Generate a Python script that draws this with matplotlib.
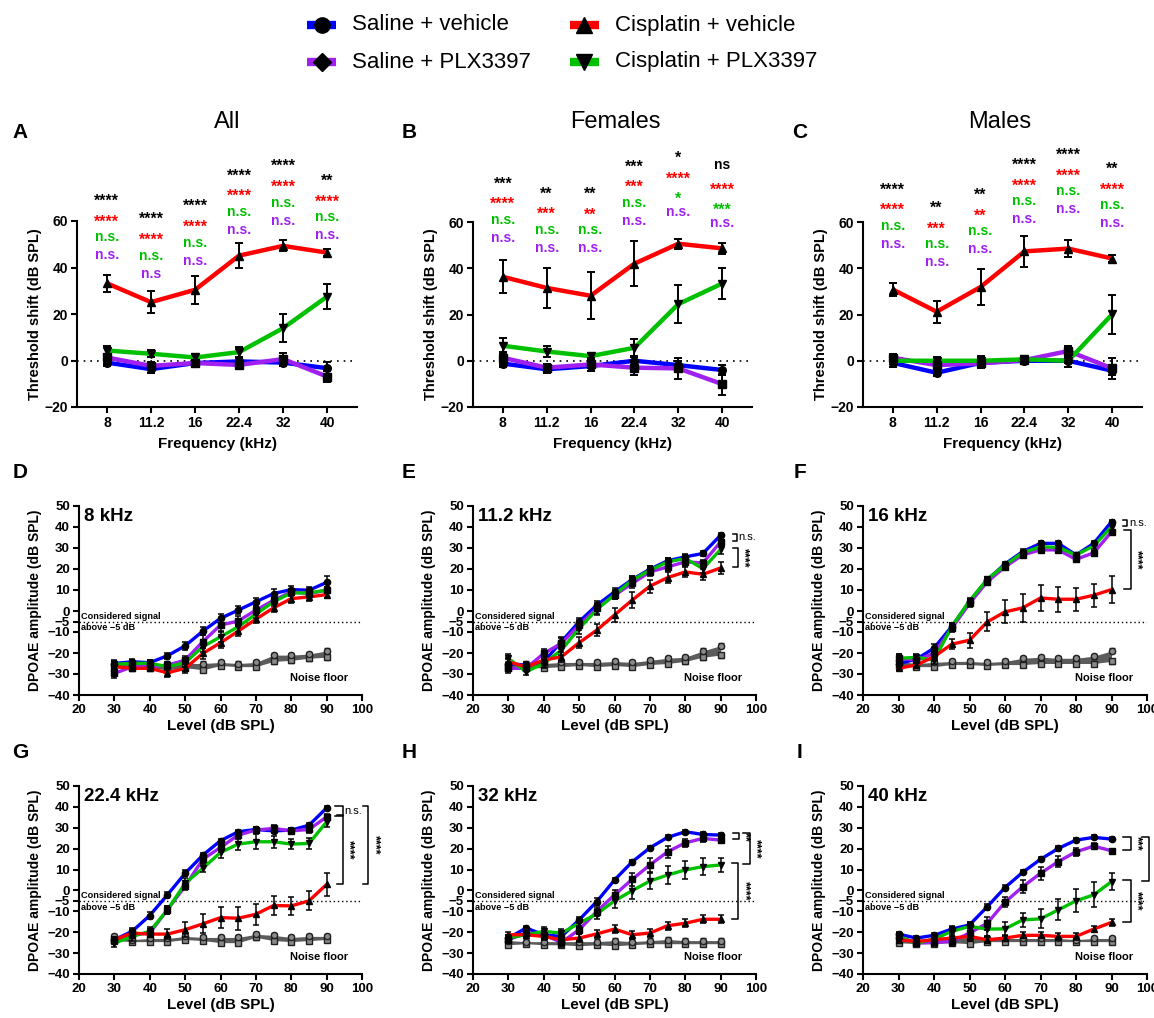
import numpy as np
import matplotlib.pyplot as plt
from matplotlib.lines import Line2D

plt.rcParams.update({
    'font.family': ['Liberation Sans', 'DejaVu Sans'],
    'font.weight': 'bold',
    'axes.labelweight': 'bold',
    'axes.linewidth': 1.5,
    'xtick.major.width': 1.5,
    'ytick.major.width': 1.5,
    'xtick.major.size': 4,
    'ytick.major.size': 4,
    'xtick.major.pad': 2.5,
    'ytick.major.pad': 2.5,
})

W, H = 1154, 1018
BLUE = '#0000ff'
PURPLE = '#a020f0'
GREEN = '#00c000'
RED = '#ff0000'
COLORS = [BLUE, PURPLE, GREEN, RED]
MARKERS = ['o', 's', 'v', '^']

# ---------- threshold shift data (A-C) ----------
freqs = ['8', '11.2', '16', '22.4', '32', '40']

all_blue = [-0.9, -3.7, -1.1, -0.4, -0.9, -3.3]
all_blue_err = [1.5, 1.5, 1.5, 1.5, 1.5, 2.5]
all_purple = [1.3, -2.3, -1.1, -1.9, 0.6, -6.9]
all_purple_err = [1.5, 1.5, 1.5, 1.5, 2.5, 2.5]
all_green = [4.3, 2.9, 1.3, 3.6, 13.9, 27.5]
all_green_err = [2.0, 1.5, 1.5, 2.0, 6.0, 5.4]
all_red = [33.2, 25.1, 30.4, 45.1, 49.3, 46.4]
all_red_err = [3.6, 4.6, 6.0, 5.5, 2.4, 1.4]

fem_blue = [-1.2, -3.7, -2.3, 0.0, -1.9, -4.0]
fem_blue_err = [1.5, 1.5, 2.0, 2.0, 2.0, 2.0]
fem_purple = [1.3, -3.0, -1.6, -3.0, -3.3, -10.1]
fem_purple_err = [2.5, 1.5, 3.0, 3.0, 4.5, 4.5]
fem_green = [6.5, 4.0, 2.0, 5.6, 24.5, 33.4]
fem_green_err = [3.5, 2.5, 1.5, 4.0, 8.3, 6.7]
fem_red = [36.3, 31.5, 28.1, 42.0, 50.6, 48.6]
fem_red_err = [7.1, 8.8, 10.1, 9.6, 2.2, 2.4]

male_blue = [-0.9, -5.2, -0.9, 0.0, 0.0, -4.3]
male_blue_err = [2.0, 1.5, 1.5, 1.0, 1.0, 2.0]
male_purple = [1.3, -1.9, -1.1, 0.3, 4.2, -3.3]
male_purple_err = [1.5, 2.0, 2.0, 1.5, 2.0, 4.5]
male_green = [0.0, 0.0, 0.0, 0.6, 0.0, 20.1]
male_green_err = [1.5, 1.5, 2.0, 1.5, 2.5, 8.5]
male_red = [30.8, 21.2, 31.9, 47.3, 48.5, 44.2]
male_red_err = [3.0, 4.8, 7.9, 6.7, 3.6, 1.7]

# significance labels, rows: black, red, green, purple
all_stats = [['****', '****', '****', '****', '****', '**'],
             ['****'] * 6,
             ['n.s.'] * 6,
             ['n.s.', 'n.s', 'n.s.', 'n.s.', 'n.s.', 'n.s.']]
fem_stats = [['***', '**', '**', '***', '*', 'ns'],
             ['****', '***', '**', '***', '****', '****'],
             ['n.s.', 'n.s.', 'n.s.', 'n.s.', '*', '***'],
             ['n.s.'] * 6]
male_stats = [['****', '**', '**', '****', '****', '**'],
              ['****', '***', '**', '****', '****', '****'],
              ['n.s.'] * 6,
              ['n.s.'] * 6]
# height of the lowest label row above each frequency
all_label_base = [45.1, 37.2, 42.8, 55.9, 60.0, 53.7]
fem_label_base = [53.1, 48.8, 48.5, 60.3, 64.0, 59.3]
male_label_base = [50.4, 42.4, 48.1, 61.0, 65.3, 59.3]

# ---------- DPOAE data (D-I) ----------
levels = [30, 35, 40, 45, 50, 55, 60, 65, 70, 75, 80, 85, 90]

f8_blue = [-25.0, -24.2, -24.6, -21.3, -16.6, -9.6, -3.5, 0.4, 4.4, 8.3, 10.2, 9.9, 13.6]
f8_blue_err = [1.5, 1.5, 1.5, 1.5, 2, 2, 2, 2, 2, 2, 1.5, 1.5, 3]
f8_purple = [-29.7, -26.6, -26.6, -25.8, -23.4, -14.6, -6.7, -4.8, 0.4, 5.1, 9.1, 8.3, 9.9]
f8_purple_err = [2, 1.5, 1.5, 1.5, 2, 3, 3, 2.5, 2, 2, 1.5, 1.5, 1.5]
f8_green = [-25.4, -24.9, -24.9, -26.5, -24.6, -17.0, -12.3, -7.5, -1.5, 4.4, 8.6, 8.6, 9.9]
f8_green_err = [1.5, 1.5, 1.5, 1.5, 2, 2.5, 2.5, 2.5, 2, 2, 1.5, 1.5, 1.5]
f8_red = [-26.5, -27.3, -27.3, -29.4, -27.3, -20.2, -15.1, -9.6, -3.9, 1.5, 5.9, 6.7, 7.8]
f8_red_err = [1.5, 1.5, 1.5, 2, 2, 2.5, 2.5, 2.5, 2, 2, 2, 2, 1.5]
f8_noise_lo = [-27, -27, -27, -28, -27, -28, -26, -26.5, -26.5, -24, -23.5, -22.5, -22]
f8_noise_hi = [-25, -25, -25, -25, -25, -25, -24.5, -25, -24.5, -21, -21, -20.5, -19]

f11_blue = [-25.0, -25.8, -24.2, -14.6, -5.1, 2.8, 9.1, 15.0, 19.9, 23.9, 25.8, 27.4, 36.1]
f11_blue_err = [2, 1.5, 1.5, 2, 2, 2, 2, 1.5, 1.5, 1.5, 1, 1, 1]
f11_purple = [-27.3, -27.3, -20.2, -15.4, -6.7, 1.2, 7.5, 13.1, 18.6, 21.0, 23.4, 22.9, 32.9]
f11_purple_err = [2, 1.5, 2, 2.5, 2.5, 2.5, 2, 2, 2, 2, 2, 1.5, 1.5]
f11_green = [-22.6, -28.9, -25.0, -18.6, -8.3, 0.7, 7.8, 14.7, 19.4, 23.4, 25.0, 20.2, 29.3]
f11_green_err = [2, 1.5, 2, 2.5, 2.5, 2.5, 2, 2, 2, 2, 2, 2, 2]
f11_red = [-24.2, -26.6, -23.4, -21.8, -15.1, -9.1, -1.9, 5.2, 11.8, 15.9, 18.6, 17.5, 20.5]
f11_red_err = [2, 1.5, 2, 2.5, 2.5, 3, 3.5, 4, 3, 2.5, 2.5, 2.5, 3]
f11_noise_lo = [-27, -27, -27, -26.5, -26, -26.5, -26, -26.5, -25.5, -25, -24, -22, -21]
f11_noise_hi = [-25, -25, -25, -24.5, -24.5, -24.5, -24, -24.5, -23.5, -22.5, -22, -19, -16.5]

f16_blue = [-25.0, -23.0, -17.7, -7.4, 4.5, 14.8, 22.4, 28.3, 32.2, 32.2, 26.7, 32.2, 42.5]
f16_blue_err = [1.5, 1.5, 2, 1.5, 1, 1, 1, 1, 1, 1, 1, 1, 1]
f16_purple = [-22.5, -23.4, -20.2, -8.3, 3.6, 13.9, 21.0, 26.7, 29.1, 29.1, 24.6, 27.7, 37.7]
f16_purple_err = [2, 1.5, 2, 1.5, 1.5, 1, 1, 1, 1, 1, 1, 1, 1]
f16_green = [-22.5, -22.1, -23.4, -7.4, 4.8, 15.1, 21.9, 27.8, 30.6, 30.3, 26.7, 31.0, 40.1]
f16_green_err = [2, 1.5, 2, 1.5, 1.5, 1, 1, 1, 1, 1, 1, 1.5, 1.5]
f16_red = [-27.3, -25.7, -21.8, -15.8, -13.9, -5.2, -0.4, 1.5, 6.2, 5.6, 5.6, 7.5, 10.2]
f16_red_err = [1, 1, 2, 2.5, 3.5, 4.5, 5.5, 6.5, 6, 6, 5.5, 5.5, 6.5]
f16_noise_lo = [-26, -26.5, -26.5, -25.5, -25.5, -26, -25.5, -25.5, -25, -25, -25, -25, -24]
f16_noise_hi = [-24, -25, -24.5, -24, -24, -24.5, -24, -22.5, -22, -22.5, -22.5, -21.5, -19]

f22_blue = [-23.6, -19.6, -12.0, -2.1, 8.2, 16.9, 23.8, 28.1, 29.2, 28.5, 28.9, 31.2, 39.5]
f22_blue_err = [1.5, 1.5, 1.5, 1.5, 1.5, 1, 1, 1, 1, 1, 1, 1, 1]
f22_purple = [-23.6, -21.2, -20.4, -9.3, 2.1, 14.9, 20.6, 26.5, 28.9, 29.7, 28.5, 29.2, 35.2]
f22_purple_err = [1.5, 1.5, 1.5, 2, 2, 2, 2, 2, 1.5, 1.5, 1.5, 1.5, 1.5]
f22_green = [-25.2, -22.0, -19.6, -9.3, 3.4, 10.6, 18.2, 22.2, 23.3, 23.3, 22.2, 22.5, 32.8]
f22_green_err = [2, 2, 2, 2, 2.5, 2, 2.5, 3, 3.5, 3, 2.5, 2.5, 2.5]
f22_red = [-23.6, -20.4, -20.9, -20.9, -18.8, -16.0, -13.0, -13.3, -11.4, -7.2, -7.4, -5.0, 2.9]
f22_red_err = [1.5, 1.5, 1.5, 2.5, 3.5, 4.5, 5, 5.5, 5, 4.5, 4.5, 4.5, 5.5]
f22_noise_lo = [-24, -24.5, -24.5, -24.5, -23.5, -24, -25, -25, -22.5, -24, -24.5, -24, -23.5]
f22_noise_hi = [-22, -23.5, -23, -23, -22, -22.5, -22.5, -22.5, -21, -21.5, -22.5, -22, -22]

f32_blue = [-22.8, -18.0, -21.2, -22.0, -14.1, -5.3, 5.0, 13.7, 20.4, 25.4, 28.1, 26.8, 26.5]
f32_blue_err = [1.5, 1, 1.5, 1.5, 1.5, 1.5, 1, 1, 1, 1, 1, 1, 1]
f32_purple = [-23.6, -20.4, -21.2, -24.9, -18.8, -10.1, -2.1, 5.3, 12.2, 18.5, 22.8, 24.9, 24.1]
f32_purple_err = [1.5, 1.5, 2, 2, 2, 2, 2.5, 3, 3.5, 3, 2, 1.5, 1.5]
f32_green = [-22.8, -21.2, -19.6, -20.4, -15.7, -11.2, -5.0, -0.1, 4.5, 7.4, 9.8, 11.4, 12.2]
f32_green_err = [1.5, 1.5, 2, 2, 2, 2.5, 3.5, 4, 4, 4.5, 4.5, 4, 3.5]
f32_red = [-21.2, -21.2, -22.0, -23.6, -22.8, -20.8, -18.5, -21.2, -20.4, -16.9, -15.7, -13.8, -13.8]
f32_red_err = [1.5, 1.5, 1.5, 2, 2, 2, 2, 2, 2, 2, 2, 2, 2]
f32_noise_lo = [-26, -25.5, -26, -26, -26.5, -26, -26.5, -26, -25.5, -25.5, -25.5, -25.5, -25.5]
f32_noise_hi = [-24, -24.5, -24.5, -24.5, -24.5, -24.5, -24, -24.5, -24, -23.5, -24, -24, -24]

f40_blue = [-20.9, -22.8, -21.5, -18.5, -16.5, -7.8, 1.4, 8.7, 14.9, 20.1, 24.1, 25.4, 24.6]
f40_blue_err = [1, 1, 1, 1.5, 1.5, 1.5, 1, 1, 1, 1, 1, 1, 1]
f40_purple = [-22.0, -25.2, -24.9, -24.4, -20.4, -15.7, -5.6, 1.8, 8.2, 13.8, 18.5, 21.2, 19.0]
f40_purple_err = [1.5, 1.5, 1.5, 2, 2, 3, 2.5, 3, 3, 2.5, 2, 1.5, 1]
f40_green = [-22.0, -25.2, -23.3, -19.6, -17.2, -18.5, -18.4, -14.1, -13.6, -9.3, -5.0, -2.1, 4.2]
f40_green_err = [1.5, 1.5, 1.5, 2, 2, 3.5, 3.5, 3.5, 4.5, 5, 5.5, 6, 4]
f40_red = [-23.6, -24.4, -23.6, -22.8, -22.0, -23.6, -22.8, -21.5, -21.5, -22.0, -22.0, -18.5, -15.3]
f40_red_err = [1.5, 1.5, 1.5, 2, 2, 1.5, 1.5, 1.5, 1.5, 1.5, 1.5, 1.5, 1.5]
f40_noise_lo = [-25, -25.5, -25.5, -25, -25.5, -24.5, -24.5, -24.5, -24.5, -24.5, -24.5, -24.5, -24.5]
f40_noise_hi = [-23, -24, -24, -23, -22.5, -23, -23, -23, -23, -23, -23.5, -23, -23]

legend_labels = ['Saline + vehicle', 'Saline + PLX3397', 'Cisplatin + vehicle', 'Cisplatin + PLX3397']


def rect(left, top, right, bottom):
    return [left / W, 1 - bottom / H, (right - left) / W, (bottom - top) / H]


def star_text(ax, x, y, s, color):
    # y is where the glyphs should be centred
    fs = 11.5 if '*' in s else 10
    off = -0.58 * fs if '*' in s else -0.27 * fs
    ax.annotate(s, (x, y), xytext=(0, off), textcoords='offset points',
                ha='center', va='baseline', color=color, fontsize=fs,
                fontweight='bold', annotation_clip=False)


def shift_panel(ax, series, errs, stats, base):
    x = np.arange(len(freqs))
    ax.axhline(0, color='black', ls=(0, (1, 3)), lw=1.2, zorder=1)
    for vals, err, col, mk in zip(series, errs, COLORS, MARKERS):
        ax.plot(x, vals, color=col, lw=3.2, zorder=2, solid_capstyle='butt')
        ax.errorbar(x, vals, yerr=err, fmt=mk, color='black', ms=5.5,
                    capsize=3, elinewidth=1.4, capthick=1.4, zorder=3)
    stat_colors = ['black', RED, GREEN, PURPLE]
    row_off = [25.4, 16.6, 7.8, 0.0]
    for i in range(len(freqs)):
        for rows, col, off in zip(stats, stat_colors, row_off):
            star_text(ax, i, base[i] + off, rows[i], col)
    ax.set_xlim(-0.68, 5.68)
    ax.set_ylim(-20, 60)
    ax.set_xticks(x)
    ax.set_xticklabels(freqs)
    ax.set_yticks([-20, 0, 20, 40, 60])
    ax.tick_params(labelsize=10)
    ax.spines[['top', 'right']].set_visible(False)
    ax.set_xlabel('Frequency (kHz)', fontsize=11, labelpad=5)
    ax.set_ylabel('Threshold shift (dB SPL)', fontsize=10.5, labelpad=2)


def dpoae_panel(ax, series, errs, noise_lo, noise_hi, label, brackets):
    ax.fill_between(levels, noise_lo, noise_hi, color='#5c5c5c', lw=0, zorder=1)
    ax.errorbar(levels, noise_lo, yerr=1.2, fmt='s', mfc='#8a8a8a', mec='#202020',
                ecolor='#202020', ms=4.5, capsize=2, elinewidth=0.8, zorder=2)
    ax.errorbar(levels, noise_hi, yerr=1.2, fmt='o', mfc='#8a8a8a', mec='#202020',
                ecolor='#202020', ms=4.5, capsize=2, elinewidth=0.8, zorder=2)
    ax.plot([20, 100], [-5, -5], color='black', ls=(0, (1, 2)), lw=1, zorder=1)
    for vals, err, col, mk in zip(series, errs, COLORS, MARKERS):
        ax.plot(levels, vals, color=col, lw=2.4, zorder=3)
        ax.errorbar(levels, vals, yerr=err, fmt=mk, color='black', ms=4.5,
                    capsize=2.5, elinewidth=1.1, capthick=1.1, zorder=4)
    ax.text(20.6, -2.4, 'Considered signal', fontsize=6.6, va='center', ha='left')
    ax.text(20.6, -8.0, 'above \u22125 dB', fontsize=6.6, va='center', ha='left')
    ax.text(88, -32, 'Noise floor', fontsize=8, va='center', ha='center')
    ax.text(21.3, 45, label, fontsize=13.5, va='center', ha='left')
    for a, b, lab, x0, x1 in brackets:
        top = series[a][-1] + 0.8
        bot = series[b][-1] + 0.3
        ax.plot([x0, x1, x1, x0], [top, top, bot, bot], color='black', lw=1.1,
                clip_on=False, zorder=5)
        mid = (top + bot) / 2
        if '*' in lab:
            ax.text(x1 + 1.7, mid, lab, rotation=270, fontsize=9, ha='center',
                    va='center', clip_on=False)
        else:
            ax.text(x1 + 0.4, mid, lab, fontsize=8, ha='left', va='center',
                    fontweight='normal', clip_on=False)
    ax.set_xlim(20, 100)
    ax.set_ylim(-40, 50)
    ax.set_xticks(range(20, 101, 10))
    ax.set_yticks([-40, -30, -20, -10, -5, 0, 10, 20, 30, 40, 50])
    ax.tick_params(labelsize=9.5)
    ax.spines[['top', 'right']].set_visible(False)
    ax.set_xlabel('Level (dB SPL)', fontsize=11, labelpad=2)
    ax.set_ylabel('DPOAE amplitude (dB SPL)', fontsize=10, labelpad=4)


fig = plt.figure(figsize=(W / 100, H / 100), dpi=100)

# legend (drawn by hand in figure pixels)
leg_pos = [(307, 25), (307, 62), (570, 25), (570, 62)]
leg_marks = ['o', 'D', '^', 'v']
leg_cols = [BLUE, PURPLE, RED, GREEN]
for (lx, ly), lab, col, mk in zip(leg_pos, legend_labels, leg_cols, leg_marks):
    fy = 1 - ly / H
    fig.add_artist(Line2D([lx / W, (lx + 29) / W], [fy, fy], color=col, lw=6,
                          solid_capstyle='butt', transform=fig.transFigure))
    fig.add_artist(Line2D([(lx + 14.5) / W], [fy], marker=mk, color='black',
                          ms=11 if mk != 'D' else 9, transform=fig.transFigure))
    fig.text((lx + 45) / W, fy, lab, fontsize=16, fontweight='normal',
             ha='left', va='center')

# threshold shift panels
axA = fig.add_axes(rect(77, 221, 357, 407))
shift_panel(axA, [all_blue, all_purple, all_green, all_red],
            [all_blue_err, all_purple_err, all_green_err, all_red_err],
            all_stats, all_label_base)
axB = fig.add_axes(rect(473, 222, 752, 407))
shift_panel(axB, [fem_blue, fem_purple, fem_green, fem_red],
            [fem_blue_err, fem_purple_err, fem_green_err, fem_red_err],
            fem_stats, fem_label_base)
axC = fig.add_axes(rect(863, 222, 1142, 407))
shift_panel(axC, [male_blue, male_purple, male_green, male_red],
            [male_blue_err, male_purple_err, male_green_err, male_red_err],
            male_stats, male_label_base)

for tx, title in [(227, 'All'), (615, 'Females'), (1000, 'Males')]:
    fig.text(tx / W, 1 - 122 / H, title, fontsize=17, fontweight='normal',
             ha='center', va='center')

# DPOAE panels
axD = fig.add_axes(rect(79, 506, 362, 695))
dpoae_panel(axD, [f8_blue, f8_purple, f8_green, f8_red],
            [f8_blue_err, f8_purple_err, f8_green_err, f8_red_err],
            f8_noise_lo, f8_noise_hi, '8 kHz', [])
axE = fig.add_axes(rect(473, 506, 756, 695))
dpoae_panel(axE, [f11_blue, f11_purple, f11_green, f11_red],
            [f11_blue_err, f11_purple_err, f11_green_err, f11_red_err],
            f11_noise_lo, f11_noise_hi, '11.2 kHz',
            [(0, 1, 'n.s.', 93.6, 94.7), (2, 3, '****', 93.6, 94.9)])
axF = fig.add_axes(rect(863, 506, 1147, 695))
dpoae_panel(axF, [f16_blue, f16_purple, f16_green, f16_red],
            [f16_blue_err, f16_purple_err, f16_green_err, f16_red_err],
            f16_noise_lo, f16_noise_hi, '16 kHz',
            [(0, 2, 'n.s.', 93.1, 94.5), (1, 3, '****', 93.6, 95.4)])
axG = fig.add_axes(rect(79, 786, 362, 974))
dpoae_panel(axG, [f22_blue, f22_purple, f22_green, f22_red],
            [f22_blue_err, f22_purple_err, f22_green_err, f22_red_err],
            f22_noise_lo, f22_noise_hi, '22.4 kHz',
            [(0, 1, 'n.s.', 92.3, 94.7), (1, 3, '****', 92.8, 94.7),
             (0, 3, '****', 100.3, 101.8)])
axH = fig.add_axes(rect(473, 786, 756, 974))
dpoae_panel(axH, [f32_blue, f32_purple, f32_green, f32_red],
            [f32_blue_err, f32_purple_err, f32_green_err, f32_red_err],
            f32_noise_lo, f32_noise_hi, '32 kHz',
            [(0, 1, '**', 93.6, 95.2), (0, 2, '****', 96.4, 98.3),
             (2, 3, '****', 93.3, 95.0)])
axI = fig.add_axes(rect(863, 786, 1147, 974))
dpoae_panel(axI, [f40_blue, f40_purple, f40_green, f40_red],
            [f40_blue_err, f40_purple_err, f40_green_err, f40_red_err],
            f40_noise_lo, f40_noise_hi, '40 kHz',
            [(0, 1, '***', 93.1, 95.4), (0, 2, '****', 98.7, 100.6),
             (2, 3, '****', 93.1, 95.4)])

# panel letters
for lx, ly, letter in [(20, 133, 'A'), (409, 133, 'B'), (800, 133, 'C'),
                       (20, 473, 'D'), (409, 473, 'E'), (800, 473, 'F'),
                       (20, 753, 'G'), (409, 753, 'H'), (800, 753, 'I')]:
    fig.text(lx / W, 1 - ly / H, letter, fontsize=15, fontweight='bold',
             ha='center', va='center')

fig.savefig('out.png', dpi=100)
